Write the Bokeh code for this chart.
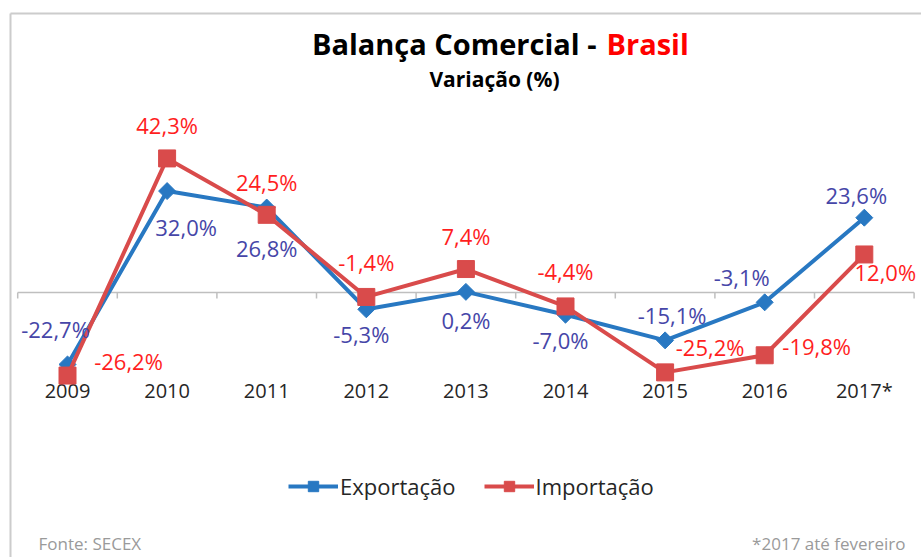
from bokeh.plotting import figure
from bokeh.models import Range1d, Label, Legend, LegendItem, ColumnDataSource
from bokeh.embed import file_html
from bokeh.resources import INLINE
from bokeh.core.properties import value
import numpy as np

# ---- data ----
years = ["2009", "2010", "2011", "2012", "2013", "2014", "2015", "2016", "2017*"]
exportacao = [-22.7, 32.0, 26.8, -5.3, 0.2, -7.0, -15.1, -3.1, 23.6]
importacao = [-26.2, 42.3, 24.5, -1.4, 7.4, -4.4, -25.2, -19.8, 12.0]

# ---- label placement (screen px offsets, layout only) ----
exp_dx = [-12, 19, 0, -5, 0, -5, 7, -23, -8]
exp_dy = [-35, 36, 40, 25, 28, 25, -25, -25, -23]
imp_dx = [61, 0, 0, 0, 0, 0, 45, 52, 21]
imp_dy = [-15, -33, -33, -35, -33, -35, -25, -9, 18]

W, H = 921, 557
PPX, X0 = 99.6, 67.0     # px per category, canvas x of first category
PPY, Y0 = 3.17, 292.0    # px per %, canvas y of zero

FONT = "Open Sans"
BLUE = "#2878C2"
RED = "#D94B4B"
BLUE_TXT = "#4646A8"
RED_TXT = "#FF1E1E"

def fmt(v):
    return f"{v:.1f}".replace(".", ",") + "%"

def dx(px):   # canvas px -> data x
    return (px - X0) / PPX

def dy(py):   # canvas px -> data y
    return (Y0 - py) / PPY

xs = list(range(len(years)))
src = ColumnDataSource(dict(
    x=xs, exp=exportacao, imp=importacao, year=years,
    exp_lbl=[fmt(v) for v in exportacao], imp_lbl=[fmt(v) for v in importacao],
    exp_dx=exp_dx, exp_dy=exp_dy, imp_dx=imp_dx, imp_dy=imp_dy,
    tick_y=[dy(390)] * len(years),
))

p = figure(width=W, height=H, output_backend="svg", toolbar_location=None,
           x_range=Range1d(dx(0), dx(W)), y_range=Range1d(dy(H), dy(0)),
           x_axis_location=None, y_axis_location=None,
           min_border=0, outline_line_color=None)
p.grid.visible = False
p.background_fill_color = "white"
p.border_fill_color = "white"

# frame border (decorative): top and left edges
p.segment(x0=[dx(10), dx(10)], x1=[dx(W + 5), dx(10)], y0=[dy(13), dy(13)], y1=[dy(13), dy(H + 5)],
          line_color="#cccccc", line_width=2)

# zero axis line with category ticks
n = len(years)
p.segment(x0=[-0.5], x1=[n - 0.5], y0=[0], y1=[0], line_color="#bfbfbf", line_width=1.5)
tx = [i - 0.5 for i in range(n + 1)]
p.segment(x0=tx, x1=tx, y0=[0] * (n + 1), y1=[-6 / PPY] * (n + 1), line_color="#bfbfbf", line_width=1.5)

# category labels
p.text(x="x", y="tick_y", text="year", source=src, text_align="center", text_baseline="middle",
       text_font=value(FONT), text_font_size="20px", text_color="#262626")

# series
le = p.line("x", "exp", source=src, line_color=BLUE, line_width=4)
se = p.scatter("x", "exp", source=src, marker="square", angle=np.pi / 4, size=12,
               fill_color=BLUE, line_color=BLUE)
li = p.line("x", "imp", source=src, line_color=RED, line_width=4)
si = p.scatter("x", "imp", source=src, marker="square", size=17, fill_color=RED, line_color=RED)

# data labels
p.text(x="x", y="exp", text="exp_lbl", x_offset="exp_dx", y_offset="exp_dy", source=src,
       text_align="center", text_baseline="middle", text_font=value(FONT),
       text_font_size="22px", text_color=BLUE_TXT)
p.text(x="x", y="imp", text="imp_lbl", x_offset="imp_dx", y_offset="imp_dy", source=src,
       text_align="center", text_baseline="middle", text_font=value(FONT),
       text_font_size="22px", text_color=RED_TXT)

# titles
p.add_layout(Label(x=596, y=H - 43, x_units="screen", y_units="screen", text="Balança Comercial -",
                   text_align="right", text_baseline="middle", text_font=FONT,
                   text_font_size="29px", text_font_style="bold", text_color="#000000"))
p.add_layout(Label(x=606, y=H - 43, x_units="screen", y_units="screen", text="Brasil",
                   text_align="left", text_baseline="middle", text_font=FONT,
                   text_font_size="29px", text_font_style="bold", text_color="#FF0000"))
p.add_layout(Label(x=494, y=H - 78, x_units="screen", y_units="screen", text="Variação (%)",
                   text_align="center", text_baseline="middle", text_font=FONT,
                   text_font_size="21px", text_font_style="bold", text_color="#000000"))

# legend
legend = Legend(items=[LegendItem(label="Exportação", renderers=[le, se]),
                       LegendItem(label="Importação", renderers=[li, si])],
                orientation="horizontal", location=(288, H - 501),
                border_line_color=None, background_fill_alpha=0,
                padding=0, margin=0, spacing=28, glyph_width=50, glyph_height=26,
                label_standoff=2, label_text_font=FONT, label_text_font_size="22px",
                label_text_color="#262626", label_text_baseline="middle")
p.add_layout(legend)

# footer
p.add_layout(Label(x=38, y=H - 543, x_units="screen", y_units="screen", text="Fonte: SECEX",
                   text_align="left", text_baseline="middle", text_font=FONT,
                   text_font_size="17px", text_color="#9a9a9a"))
p.add_layout(Label(x=905, y=H - 543, x_units="screen", y_units="screen", text="*2017 até fevereiro",
                   text_align="right", text_baseline="middle", text_font=FONT,
                   text_font_size="17px", text_color="#9a9a9a"))

open("out.html", "w").write(file_html(p, INLINE))
